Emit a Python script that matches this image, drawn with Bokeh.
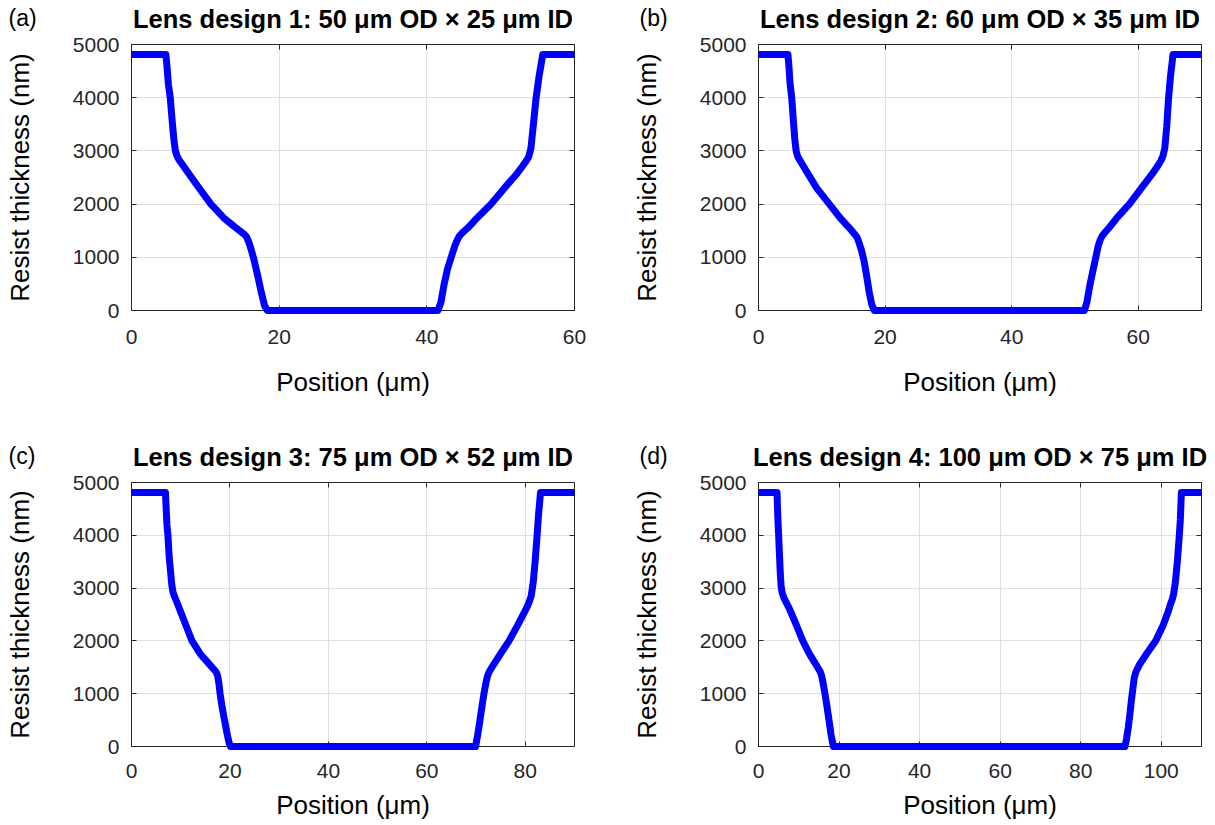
from bokeh.plotting import figure
from bokeh.models import Range1d, LinearAxis, FixedTicker
from bokeh.layouts import column, row
from bokeh.core.properties import value
from bokeh.embed import file_html
from bokeh.resources import INLINE

# ---------------- data ----------------
titles = ["Lens design 1: 50 \u03bcm OD \u00d7 25 \u03bcm ID",
          "Lens design 2: 60 \u03bcm OD \u00d7 35 \u03bcm ID",
          "Lens design 3: 75 \u03bcm OD \u00d7 52 \u03bcm ID",
          "Lens design 4: 100 \u03bcm OD \u00d7 75 \u03bcm ID"]
tags = ["(a)", "(b)", "(c)", "(d)"]
x_max = [60, 70, 90, 110]
x_ticks = [[0, 20, 40, 60], [0, 20, 40, 60], [0, 20, 40, 60, 80], [0, 20, 40, 60, 80, 100]]
y_ticks = [0, 1000, 2000, 3000, 4000, 5000]

pos_a = [0, 4.65, 4.8, 5.0, 5.25, 5.55, 5.75, 5.95, 6.15, 6.4, 6.7, 7.5, 9.0, 10.75, 12.5, 14.0, 15.3, 15.6, 15.9, 16.2, 16.6, 17.1, 17.6, 18.0, 18.4,
         41.5, 41.9, 42.35, 42.8, 43.3, 43.8, 44.1, 44.4, 44.8, 45.6, 46.8, 48.7, 50.5, 52.2, 53.1, 53.5, 53.8, 54.1, 54.4, 54.8, 55.2, 55.7, 60]
thk_a = [4810, 4810, 4600, 4250, 4000, 3500, 3200, 3000, 2910, 2840, 2780, 2620, 2330, 2000, 1740, 1570, 1430, 1380, 1280, 1150, 950, 650, 330, 100, 0,
         0, 150, 500, 780, 1000, 1220, 1320, 1400, 1460, 1560, 1740, 2000, 2300, 2570, 2740, 2820, 2890, 3050, 3450, 4000, 4400, 4810, 4810]

pos_b = [0, 4.65, 4.8, 5.0, 5.25, 5.55, 5.75, 5.95, 6.15, 6.4, 6.7, 7.5, 9.2, 11.2, 12.9, 14.3, 15.3, 15.6, 15.9, 16.3, 16.7, 17.1, 17.5, 17.9, 18.3,
         51.5, 51.9, 52.4, 52.9, 53.3, 53.7, 54.0, 54.3, 54.7, 55.5, 56.7, 58.6, 60.5, 62.3, 63.2, 63.6, 63.9, 64.2, 64.5, 64.8, 65.1, 65.5, 70]
thk_b = [4810, 4810, 4600, 4250, 4000, 3500, 3200, 3000, 2910, 2850, 2790, 2630, 2300, 2000, 1740, 1560, 1420, 1370, 1270, 1120, 920, 640, 340, 110, 0,
         0, 160, 500, 780, 1000, 1220, 1330, 1400, 1460, 1570, 1750, 2000, 2300, 2580, 2740, 2820, 2900, 3050, 3450, 4000, 4400, 4810, 4810]

pos_c = [0, 6.9, 7.05, 7.2, 7.4, 7.65, 7.95, 8.2, 8.45, 8.7, 9.1, 10.5, 12.3, 14.0, 15.8, 17.2, 17.5, 17.75, 18.0, 18.4, 18.9, 19.4, 19.8, 20.1,
         69.9, 70.3, 70.8, 71.2, 71.6, 72.0, 72.3, 72.7, 73.5, 75.0, 76.7, 78.3, 79.7, 80.4, 80.8, 81.2, 81.6, 82.0, 82.4, 82.7, 83.1, 90]
thk_c = [4810, 4810, 4500, 4200, 4000, 3600, 3300, 3050, 2920, 2850, 2760, 2430, 2000, 1750, 1560, 1410, 1340, 1200, 1000, 750, 500, 250, 80, 0,
         0, 200, 500, 760, 1000, 1200, 1330, 1420, 1540, 1760, 2000, 2270, 2520, 2650, 2740, 2850, 3100, 3500, 4000, 4400, 4810, 4810]

pos_d = [0, 4.6, 4.7, 4.85, 5.0, 5.2, 5.4, 5.6, 5.85, 6.1, 6.4, 7.6, 9.3, 11.0, 12.6, 14.2, 15.3, 15.6, 15.9, 16.5, 17.0, 17.5, 18.0, 18.6,
         91.0, 91.4, 91.8, 92.2, 92.6, 93.0, 93.3, 93.7, 94.6, 96.5, 98.6, 100.5, 101.8, 102.4, 102.8, 103.1, 103.5, 104.0, 104.4, 104.75, 105.0, 110]
thk_d = [4810, 4810, 4550, 4250, 4000, 3650, 3300, 3050, 2920, 2860, 2800, 2620, 2320, 2000, 1760, 1560, 1420, 1360, 1260, 1000, 760, 500, 230, 0,
         0, 150, 350, 600, 880, 1120, 1300, 1410, 1550, 1770, 2000, 2300, 2570, 2720, 2800, 2900, 3100, 3500, 3900, 4300, 4810, 4810]

positions = [pos_a, pos_b, pos_c, pos_d]
thicknesses = [thk_a, thk_b, thk_c, thk_d]

# ---------------- styling ----------------
FONT = "Liberation Sans"
AX = "#262626"
GRID = "#dfdfdf"

# per panel: width, border left, border right, tag offset (px left of frame)
col_specs = [(628, 131, 54, -123), (585, 129, 12, -119), (628, 131, 54, -123), (585, 129, 12, -119)]
# per panel: height, border top, border bottom, tick standoff, label standoff
row_specs = [(419, 44, 109, 19, 20), (419, 44, 109, 19, 20),
             (406, 63, 79, 17, 9), (406, 63, 79, 17, 9)]


def style_axis(ax, ticks, show_labels):
    ax.ticker = FixedTicker(ticks=ticks)
    ax.axis_line_color = AX
    ax.axis_line_width = 1
    ax.major_tick_line_color = AX
    ax.major_tick_in = 5
    ax.major_tick_out = 0
    ax.minor_tick_in = 0
    ax.minor_tick_out = 0
    ax.major_label_text_font = FONT
    ax.major_label_text_color = AX
    if show_labels:
        ax.major_label_text_font_size = "21px"
    else:
        ax.major_label_overrides = {t: "" for t in ticks}
        ax.major_label_standoff = 0
        ax.major_label_text_font_size = "1px"


def make_panel(i):
    w, bl, br, tag_off = col_specs[i]
    ph, bt, bb, tstand, lstand = row_specs[i]
    xmax = x_max[i]
    p = figure(width=w, height=ph, output_backend="svg", toolbar_location=None,
               x_range=Range1d(0, xmax), y_range=Range1d(0, 5000),
               min_border_left=bl, min_border_right=br, min_border_top=bt, min_border_bottom=bb,
               x_axis_label="Position (\u03bcm)", y_axis_label="Resist thickness (nm)")
    p.outline_line_color = None
    p.background_fill_color = "white"
    p.border_fill_color = "white"

    xa = p.xaxis[0]
    ya = p.yaxis[0]
    style_axis(xa, x_ticks[i], True)
    style_axis(ya, y_ticks, True)
    xa.major_label_standoff = tstand
    ya.major_label_standoff = 12
    for ax in (xa, ya):
        ax.axis_label_text_font = FONT
        ax.axis_label_text_font_size = "26px"
        ax.axis_label_text_font_style = "normal"
        ax.axis_label_text_color = "#000000"
    xa.axis_label_standoff = lstand
    ya.axis_label_standoff = 35

    top = LinearAxis()
    style_axis(top, x_ticks[i], False)
    p.add_layout(top, "above")
    right = LinearAxis()
    style_axis(right, y_ticks, False)
    p.add_layout(right, "right")

    p.xgrid.ticker = FixedTicker(ticks=x_ticks[i])
    p.ygrid.ticker = FixedTicker(ticks=y_ticks)
    p.xgrid.grid_line_color = GRID
    p.ygrid.grid_line_color = GRID

    p.line(positions[i], thicknesses[i], line_color="#0000ff", line_width=7,
           line_join="round", line_cap="butt", level="overlay")

    # title, centred over the frame, 26 px above its top edge
    p.text(x=[xmax / 2], y=[5000], y_offset=-26, text=[titles[i]],
           text_align="center", text_baseline="middle",
           text_font=value(FONT), text_font_style="bold", text_font_size="25.5px",
           text_color="#000000", level="overlay")
    # panel tag, positioned relative to the frame's top-left corner
    p.text(x=[0], y=[5000], x_offset=tag_off, y_offset=-27, text=[tags[i]],
           text_align="left", text_baseline="middle",
           text_font=value(FONT), text_font_size="23px", text_color="#000000",
           level="overlay")
    return p


panels = [make_panel(i) for i in range(4)]
page = column(row(panels[0], panels[1]), row(panels[2], panels[3]))

with open("out.html", "w") as f:
    f.write(file_html(page, INLINE))
